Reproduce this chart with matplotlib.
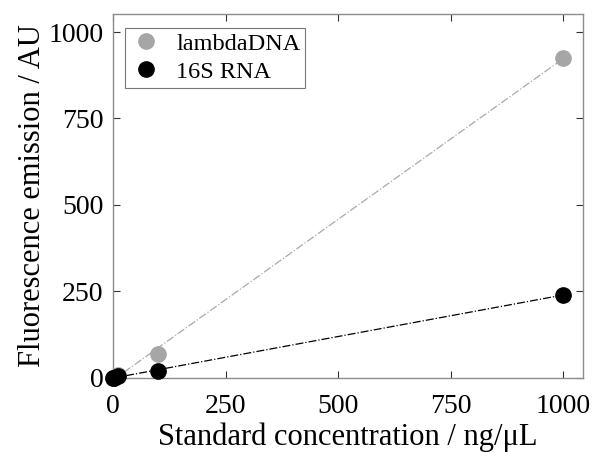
import numpy as np
from matplotlib import pyplot as plt

# standard concentrations (ng/uL) and measured emission (AU)
conc = [0, 1, 10, 100, 1000]
lambda_dna = [0, 1, 7, 68, 925]
rna_16s = [0, 0.5, 4, 19, 240]

plt.rcParams['font.family'] = ['Liberation Serif', 'DejaVu Serif']

fig = plt.figure(figsize=(5.92, 4.53), dpi=100)
ax = fig.add_axes([0.191, 0.166, 0.794, 0.803])

x_fit = np.array([0, 1000])
p_l = np.polyfit(conc, lambda_dna, 1)
p_r = np.polyfit(conc, rna_16s, 1)
ax.plot(x_fit, np.polyval(p_l, x_fit), color='#aaaaaa', lw=0.9, ls='-.', zorder=1)
ax.plot(x_fit, np.polyval(p_r, x_fit), color='black', lw=0.9, ls='-.', zorder=1)

ax.plot(conc, lambda_dna, 'o', color='#a6a6a6', ms=11, label='lambdaDNA', clip_on=False, zorder=3)
ax.plot(conc, rna_16s, 'o', color='black', ms=11, label='16S RNA', clip_on=False, zorder=3)

ax.set_xlim(0, 1044)
ax.set_ylim(0, 1052)
ax.set_xticks([0, 250, 500, 750, 1000])
ax.set_yticks([0, 250, 500, 750, 1000])
ax.tick_params(direction='in', top=True, right=True, labelsize=20, length=5,
               color='#333333', width=0.8)
ax.tick_params(axis='x', pad=12)
ax.tick_params(axis='y', pad=7)
for s in ax.spines.values():
    s.set_color('#8c8c8c')
    s.set_linewidth(1.0)

ax.set_xlabel('Standard concentration / ng/μL', fontsize=22, labelpad=2)
ax.set_ylabel('Fluorescence emission / AU', fontsize=22, labelpad=1)

leg = ax.legend(loc='upper left', fontsize=17.5, frameon=True, fancybox=False,
                handletextpad=0.6, borderpad=0.2, labelspacing=0.25,
                bbox_to_anchor=(0.015, 0.975), handlelength=1.3, borderaxespad=0.2)
leg.get_frame().set_edgecolor('#555555')
leg.get_frame().set_linewidth(0.8)

fig.savefig('out.png', dpi=100)
